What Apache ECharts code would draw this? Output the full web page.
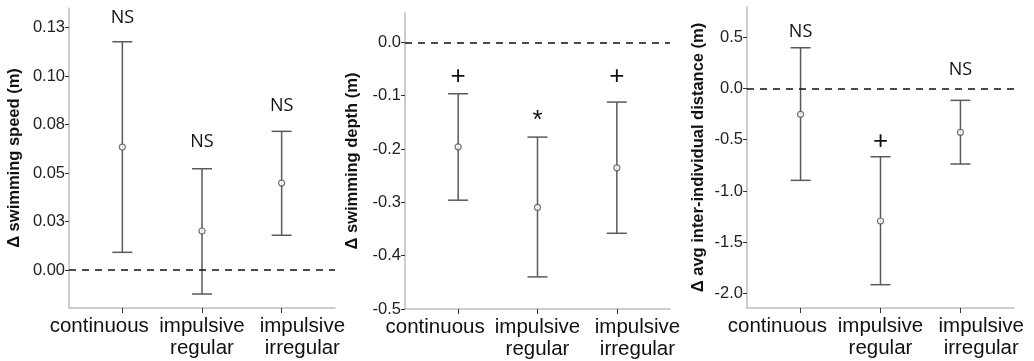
<!DOCTYPE html>
<html>
<head>
<meta charset="utf-8">
<script src="https://cdn.jsdelivr.net/npm/echarts@6/dist/echarts.min.js"></script>
<style>
html,body{margin:0;padding:0;background:#fff;}
#chart{width:1034px;height:361px;}
</style>
</head>
<body>
<div id="chart"></div>
<script>
// ---- data ----
const categories = ['continuous', 'impulsive\nregular', 'impulsive\nirregular'];

const speedMean = [0.0634, 0.0201, 0.0448];
const speedLow  = [0.0091, -0.0124, 0.0179];
const speedHigh = [0.1177, 0.0522, 0.0715];
const speedSig  = ['NS', 'NS', 'NS'];
const speedSigAt = [0.1299, 0.066, 0.0845];
const speedTicks = [0, 0.025, 0.05, 0.075, 0.10, 0.125];
const speedTickLabels = ['0.00', '0.03', '0.05', '0.08', '0.10', '0.13'];

const depthMean = [-0.196, -0.3096, -0.2353];
const depthLow  = [-0.296, -0.4398, -0.358];
const depthHigh = [-0.0964, -0.1777, -0.112];
const depthSig  = ['+', '*', '+'];
const depthSigAt = [-0.0645, -0.148, -0.0645];
const depthTicks = [0, -0.1, -0.2, -0.3, -0.4, -0.5];
const depthTickLabels = ['0.0', '-0.1', '-0.2', '-0.3', '-0.4', '-0.5'];

const distMean = [-0.253, -1.292, -0.428];
const distLow  = [-0.896, -1.912, -0.737];
const distHigh = [0.395, -0.666, -0.117];
const distSig  = ['NS', '+', 'NS'];
const distSigAt = [0.551, -0.52, 0.175];
const distTicks = [0.5, 0, -0.5, -1.0, -1.5, -2.0];
const distTickLabels = ['0.5', '0.0', '-0.5', '-1.0', '-1.5', '-2.0'];

const panels = [
  {title: 'Δ swimming speed (m)', mean: speedMean, low: speedLow, high: speedHigh, sig: speedSig, sigAt: speedSigAt,
   ticks: speedTicks, tickLabels: speedTickLabels, min: -0.0196, max: 0.1351,
   grid: {left: 69, top: 8, width: 266, height: 300}, nameGap: 46},
  {title: 'Δ swimming depth (m)', mean: depthMean, low: depthLow, high: depthHigh, sig: depthSig, sigAt: depthSigAt,
   ticks: depthTicks, tickLabels: depthTickLabels, min: -0.5, max: 0.055,
   grid: {left: 405, top: 13, width: 265, height: 296}, nameGap: 44},
  {title: 'Δ avg inter-individual distance (m)', mean: distMean, low: distLow, high: distHigh, sig: distSig, sigAt: distSigAt,
   ticks: distTicks, tickLabels: distTickLabels, min: -2.139, max: 0.792,
   grid: {left: 747, top: 7, width: 267, height: 301}, nameGap: 40}
];

const FONT = "'Liberation Sans', Arial, sans-serif";
const barColor = '#5a5a5a';
const axisColor = '#bdbdbd';
// label anchors: outer labels are pushed apart so the wide texts do not collide
const labelAnchors = [-0.29, 1, 2.26];

const grids = [], xAxes = [], yAxes = [], series = [];
panels.forEach((p, i) => {
  grids.push(Object.assign({containLabel: false, outerBoundsMode: 'none'}, p.grid));
  xAxes.push({
    type: 'value', gridIndex: i, min: -0.67, max: 2.67,
    splitLine: {show: false},
    axisLine: {show: true, onZero: false, lineStyle: {color: axisColor, width: 1.5}},
    axisTick: {show: true, customValues: [0, 1, 2], length: 5, lineStyle: {color: '#333', width: 1}},
    axisLabel: {show: true, customValues: labelAnchors, margin: 7, hideOverlap: false, interval: 0,
      showMinLabel: true, showMaxLabel: true,
      fontFamily: FONT, fontSize: 20.5, color: '#111', lineHeight: 22,
      formatter: v => categories[Math.max(0, Math.min(2, Math.round(v)))]}
  });
  yAxes.push({
    type: 'value', gridIndex: i, min: p.min, max: p.max,
    splitLine: {show: false},
    axisLine: {show: true, onZero: false, lineStyle: {color: axisColor, width: 1.5}},
    axisTick: {show: true, customValues: p.ticks, length: 4, lineStyle: {color: '#333', width: 1}},
    axisLabel: {show: true, customValues: p.ticks, margin: 4, fontFamily: FONT, fontSize: 16.5, color: '#222',
      showMinLabel: true, showMaxLabel: true,
      formatter: v => {
        let best = 0;
        p.ticks.forEach((t, k) => { if (Math.abs(t - v) < Math.abs(p.ticks[best] - v)) best = k; });
        return p.tickLabels[best];
      }},
    name: p.title, nameLocation: 'middle', nameRotate: 90, nameGap: p.nameGap,
    nameTextStyle: {fontFamily: FONT, fontSize: 16.5, fontWeight: 'bold', color: '#111'}
  });
  // zero reference line + error bars
  series.push({
    type: 'custom', xAxisIndex: i, yAxisIndex: i,
    data: p.mean.map((m, k) => [k, p.low[k], p.high[k]]),
    renderItem: (params, api) => {
      const x = api.value(0);
      const lo = api.coord([x, api.value(1)]);
      const hi = api.coord([x, api.value(2)]);
      const hw = 10;
      const st = {stroke: barColor, lineWidth: 1.5};
      return {type: 'group', children: [
        {type: 'line', shape: {x1: lo[0], y1: lo[1], x2: hi[0], y2: hi[1]}, style: st},
        {type: 'line', shape: {x1: hi[0] - hw, y1: hi[1], x2: hi[0] + hw, y2: hi[1]}, style: st},
        {type: 'line', shape: {x1: lo[0] - hw, y1: lo[1], x2: lo[0] + hw, y2: lo[1]}, style: st}
      ]};
    },
    markLine: {
      silent: true, symbol: 'none', label: {show: false},
      lineStyle: {color: '#111', type: [7, 6], width: 1.5},
      data: [{yAxis: 0}]
    },
    z: 2
  });
  // means
  series.push({
    type: 'scatter', xAxisIndex: i, yAxisIndex: i,
    data: p.mean.map((m, k) => [k, m]),
    symbol: 'circle', symbolSize: 6,
    itemStyle: {color: '#fff', borderColor: '#555', borderWidth: 1.2},
    z: 3
  });
  // significance annotations
  series.push({
    type: 'custom', xAxisIndex: i, yAxisIndex: i,
    data: p.sig.map((s, k) => [k, p.sigAt[k], s]),
    renderItem: (params, api) => {
      const c = api.coord([api.value(0), api.value(1)]);
      const s = p.sig[params.dataIndex];
      return {type: 'text', x: c[0], y: c[1], style: {
        text: s, align: 'center', verticalAlign: 'middle',
        font: (s === 'NS' ? "18px 'Open Sans', 'Noto Sans', sans-serif" : "26px 'Liberation Sans', sans-serif"),
        fill: '#111'
      }};
    },
    z: 4
  });
});

const chart = echarts.init(document.getElementById('chart'), null, {renderer: 'canvas'});
chart.setOption({
  animation: false,
  backgroundColor: '#fff',
  grid: grids, xAxis: xAxes, yAxis: yAxes, series: series
});
</script>
</body>
</html>
